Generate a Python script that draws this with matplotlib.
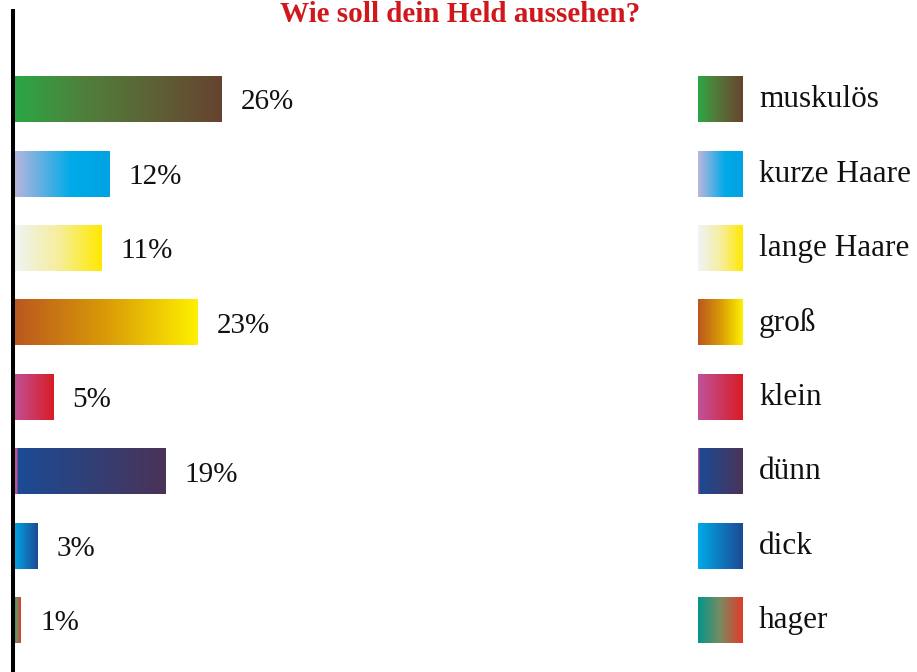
import numpy as np
import matplotlib.pyplot as plt
from matplotlib.colors import LinearSegmentedColormap

plt.rcParams['font.family'] = ['Liberation Serif', 'DejaVu Serif']

# data
categories = ['muskulös', 'kurze Haare', 'lange Haare', 'groß', 'klein', 'dünn', 'dick', 'hager']
values = [26, 12, 11, 23, 5, 19, 3, 1]
labels = ['26%', '12%', '11%', '23%', '5%', '19%', '3%', '1%']
title = 'Wie soll dein Held aussehen?'

# gradient colour stops (left -> right) for every bar
gradients = [
    ['#2aa845', '#4f803c', '#5d6236', '#66432f'],
    [(0, '#bcb6dc'), (0.6, '#00aae8'), (1, '#00a2e2')],
    ['#eef4f8', '#f6eea0', '#ffe900'],
    ['#b9561f', '#d99a08', '#fff000'],
    ['#c0529a', '#d81c24'],
    [(0, '#c0509a'), (0.025, '#c0509a'), (0.03, '#1b4b95'), (1, '#4a3358')],
    ['#00aae8', '#1d4995'],
    ['#00968a', '#7a8a60', '#e23a2a'],
]

px_per_pct = 8.0
bar_h = 0.605
ylims = (7.69, -1.19)


def gradient_strip(ax, x0, x1, y, h, stops):
    cmap = LinearSegmentedColormap.from_list('g', stops)
    grad = np.linspace(0, 1, 256).reshape(1, -1)
    ax.imshow(grad, cmap=cmap, aspect='auto', interpolation='bilinear',
              extent=(x0, x1, y + h / 2, y - h / 2), zorder=2)


fig = plt.figure(figsize=(9.17, 6.72), dpi=100)
top = 1 - 11 / 672

# bars
ax = fig.add_axes([13 / 917, 0, (690 - 13) / 917, top])
for i, (v, lab, g) in enumerate(zip(values, labels, gradients)):
    gradient_strip(ax, 0, v, i, bar_h, g)
    ax.annotate(lab, (v, i), xytext=(14, -2), textcoords='offset points',
                ha='left', va='center', fontsize=21, color='#111111')
ax.set_xlim(0, (690 - 13) / px_per_pct)
ax.set_ylim(*ylims)
for s in ['top', 'right', 'bottom']:
    ax.spines[s].set_visible(False)
ax.spines['left'].set_linewidth(2.9)
ax.spines['left'].set_zorder(5)
ax.set_xticks([])
ax.set_yticks([])

# legend
lax = fig.add_axes([698 / 917, 0, 219 / 917, top])
for i, (cat, g) in enumerate(zip(categories, gradients)):
    gradient_strip(lax, 0, 45, i, bar_h, g)
    lax.text(61, i, cat, ha='left', va='center', fontsize=22.5, color='#111111')
lax.set_xlim(0, 219)
lax.set_ylim(*ylims)
lax.axis('off')

# title (the original is clipped at the top edge; keep it fully visible)
fig.text(460 / 917, 1 - 1 / 672, title, ha='center', va='top',
         fontsize=21, fontweight='bold', color='#d0181c')

fig.savefig('out.png', dpi=100)
